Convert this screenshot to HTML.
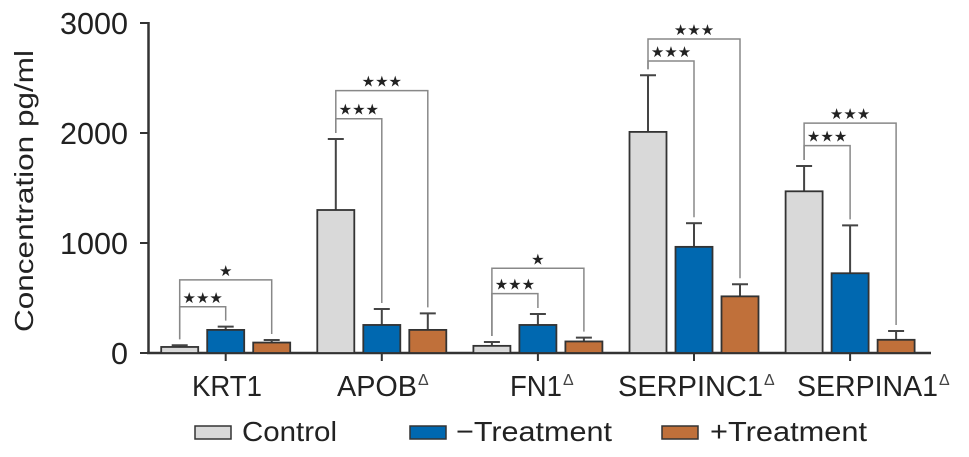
<!DOCTYPE html>
<html><head><meta charset="utf-8"><style>
html,body{margin:0;padding:0;background:#fff;}
svg{display:block;font-family:"Liberation Sans",sans-serif;}
</style></head><body>
<svg id="chart" width="969" height="457"></svg>
<script>
const categories=["KRT1","APOB","FN1","SERPINC1","SERPINA1"];
const deltaMark=[false,true,true,true,true];
const seriesNames=["Control","\u2212Treatment","+Treatment"];
const controlVals=[55,1300,65,2010,1470];
const controlErr=[70,1945,100,2525,1700];
const minusVals=[210,255,255,965,725];
const minusErr=[240,400,355,1180,1160];
const plusVals=[95,210,105,515,120];
const plusErr=[118,360,140,625,200];
const innerBracket=[420,2130,540,2655,1885];
const innerStars=["***","***","***","***","***"];
const outerBracket=[665,2385,770,2855,2090];
const outerStars=["*","***","*","***","***"];
const yTicks=[0,1000,2000,3000];

const NS="http://www.w3.org/2000/svg";
const svg=document.getElementById('chart');
const colors=["#d9d9d9","#0068b0","#c0703a"];
const y0=353, pxPer=0.11;
function yS(v){return y0-v*pxPer;}
function xC(i){return 225.7+i*156.1;}
const offs=[-46,0,46], bw=37;
function el(tag,attrs,parent){const e=document.createElementNS(NS,tag);for(const k in attrs)e.setAttribute(k,attrs[k]);(parent||svg).appendChild(e);return e;}

// y axis
const yAxis=el('g',{});


el('line',{x1:148.5,y1:yS(3000)-1,x2:148.5,y2:y0+1,stroke:'#333','stroke-width':2.5},yAxis);
yTicks.forEach(t=>{
  el('line',{x1:140,x2:148.5,y1:yS(t),y2:yS(t),stroke:'#333','stroke-width':2},yAxis);
  const s=String(t);
  const tx=el('text',{x:128,y:yS(t)+11,'text-anchor':'end','font-size':31,fill:'#222',textLength:17*s.length,lengthAdjust:'spacingAndGlyphs'},yAxis);
  tx.textContent=s;
  
  
});
const yt=el('text',{x:0,y:0,transform:'translate(33,191) rotate(-90)','text-anchor':'middle','font-size':26,fill:'#222',textLength:282,lengthAdjust:'spacingAndGlyphs'});
yt.textContent="Concentration pg/ml";



// x axis
const xAxis=el('g',{});


el('line',{x1:147,x2:931,y1:y0,y2:y0,stroke:'#333','stroke-width':2.5},xAxis);
const labelX=[192,337,510,618,797];
const labelW=[70,80,52,145,141];
categories.forEach((c,i)=>{
  el('line',{x1:xC(i),x2:xC(i),y1:y0,y2:y0+8,stroke:'#333','stroke-width':2},xAxis);
  const t=el('text',{x:labelX[i],y:396,'font-size':29,fill:'#222',textLength:labelW[i],lengthAdjust:'spacingAndGlyphs'},xAxis);
  t.textContent=c;
  
  
  if(deltaMark[i]){const d=el('text',{x:labelX[i]+labelW[i]+1,y:385,'font-size':16,fill:'#444'},xAxis);d.textContent="\u0394";}
});

// bars
const vals=[controlVals,minusVals,plusVals], errs=[controlErr,minusErr,plusErr];
categories.forEach((c,i)=>{
  for(let s=0;s<3;s++){
    const cx=xC(i)+offs[s];
    const e=el('line',{x1:cx,x2:cx,y1:yS(vals[s][i]),y2:yS(errs[s][i]),stroke:'#444','stroke-width':2});
    
    
    el('line',{x1:cx-8,x2:cx+8,y1:yS(errs[s][i]),y2:yS(errs[s][i]),stroke:'#444','stroke-width':2});
    const r=el('rect',{x:cx-bw/2,y:yS(vals[s][i]),width:bw,height:y0-yS(vals[s][i]),fill:colors[s],stroke:'#333','stroke-width':1.8});
    
    
  }
  const lx=xC(i)+offs[0];
  const br=[[innerBracket[i],1,innerStars[i]],[outerBracket[i],2,outerStars[i]]];
  br.forEach(([v,s,st])=>{
    const rx=xC(i)+offs[s];
    const yb=yS(v);
    const p=el('path',{d:`M${lx},${yS(controlErr[i])-6} V${yb} H${rx} V${yS(errs[s][i])-6}`,fill:'none',stroke:'#888','stroke-width':1.5});
    
    
    const t=el('text',{x:(lx+rx)/2,y:yb-4,'text-anchor':'middle','font-size':15,fill:'#222'});
    t.textContent=st.replace(/\*/g,'\u2605');
    
    
  });
});

// legend
const leg=el('g',{});


const lx0=[195,410,662], tx0=[242,456,710], tw=[95,156,157];
seriesNames.forEach((n,s)=>{
  const g=el('g',{},leg);
  
  
  el('rect',{x:lx0[s],y:426,width:36,height:13,fill:colors[s],stroke:'#333','stroke-width':1.5},g);
  const t=el('text',{x:tx0[s],y:441,'font-size':28,fill:'#222',textLength:tw[s],lengthAdjust:'spacingAndGlyphs'},g);
  t.textContent=n;
});
</script>
</body></html>
